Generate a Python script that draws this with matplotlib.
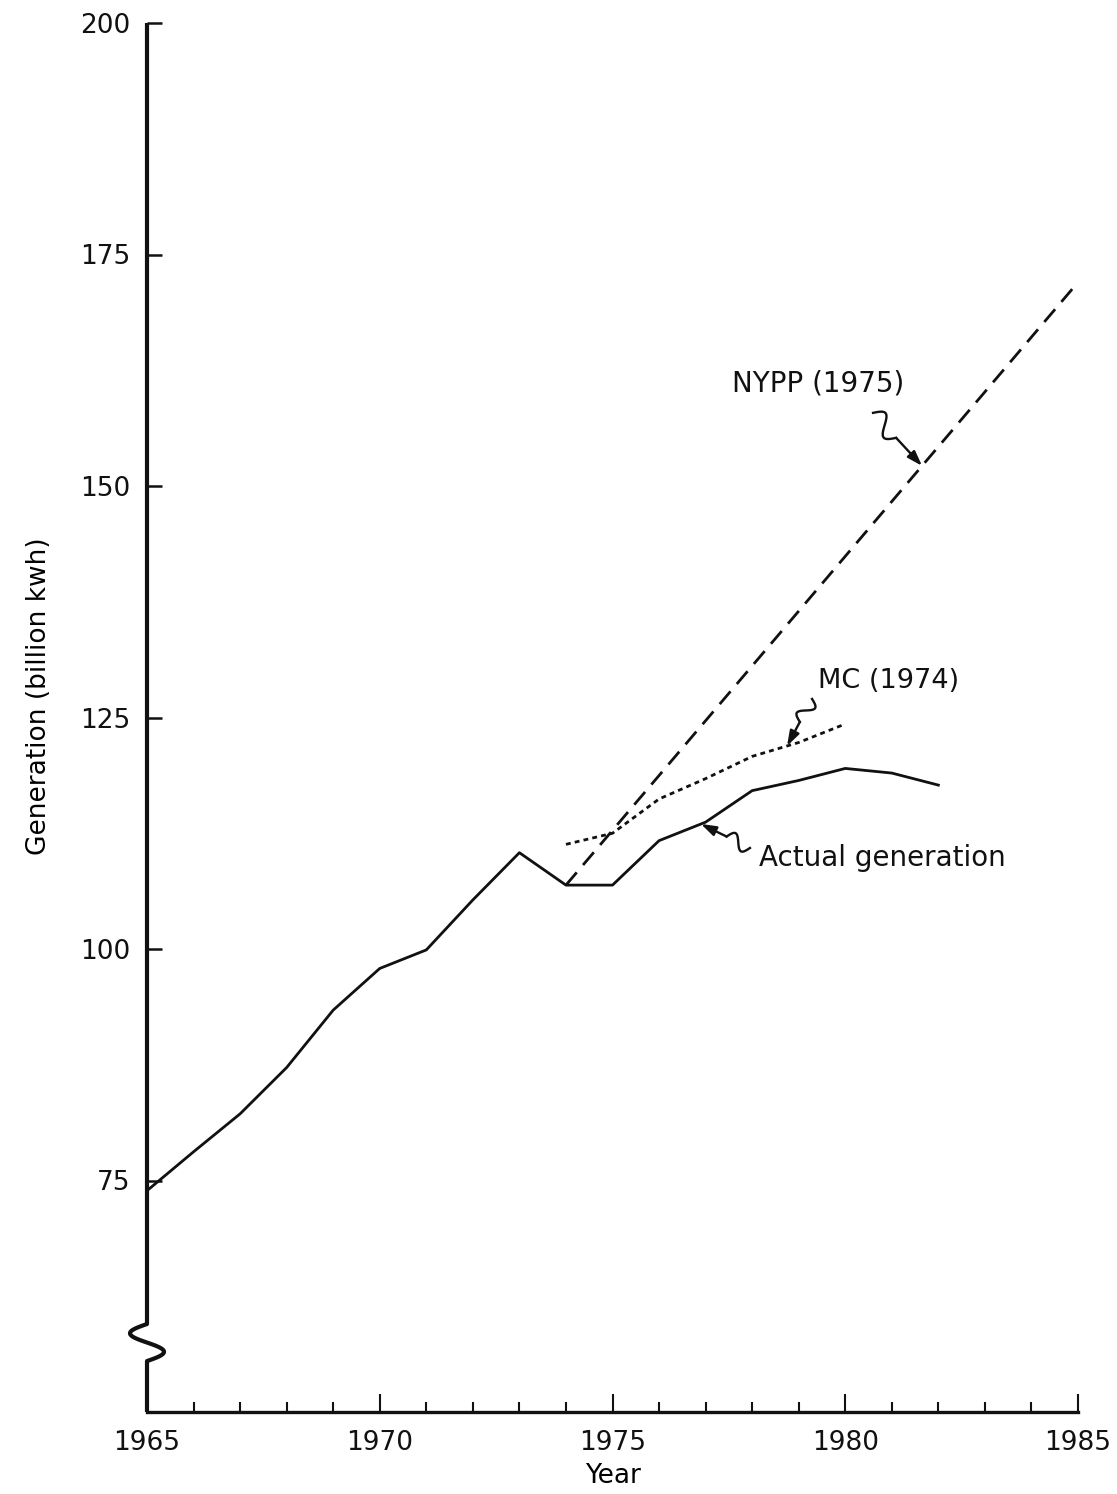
import numpy as np
import matplotlib
matplotlib.use("Agg")
import matplotlib.pyplot as plt
from matplotlib.transforms import IdentityTransform

# Net generation, billion kWh
years_actual = [1965, 1966, 1967, 1968, 1969, 1970, 1971, 1972, 1973,
                1974, 1975, 1976, 1977, 1978, 1979, 1980, 1981, 1982]
actual_gen = [73.9, 78.1, 82.2, 87.2, 93.4, 97.9, 99.9, 105.3, 110.4,
              106.9, 106.9, 111.7, 113.7, 117.1, 118.2, 119.5, 119.0, 117.7]

# MC (1974) forecast
years_mc = [1974, 1975, 1976, 1977, 1978, 1979, 1980]
mc_forecast = [111.3, 112.5, 116.2, 118.4, 120.8, 122.3, 124.3]

# NYPP (1975) forecast
years_nypp = [1974, 1985]
nypp_forecast = [106.9, 172.0]

x_major = [1965, 1970, 1975, 1980, 1985]
x_minor = list(range(1965, 1986))
y_ticks = [75, 100, 125, 150, 175, 200]

plt.rcParams['font.family'] = ['DejaVu Sans']
plt.rcParams['lines.scale_dashes'] = False

ink = '#111111'
W, H = 1117, 1494
fig = plt.figure(figsize=(W / 100, H / 100), dpi=100)
ax = fig.add_axes([147 / W, 1 - 1412 / H, 931 / W, 1389 / H])
ax.set_xlim(1965, 1985)
ax.set_ylim(50, 200)

ax.plot(years_actual, actual_gen, color=ink, lw=2.0, solid_joinstyle='round')
ax.plot(years_nypp, nypp_forecast, color=ink, lw=2.0, dashes=(12, 7))
ax.plot(years_mc, mc_forecast, color=ink, lw=2.0, dashes=(3.5, 3))

# Frame: bottom spine only, left spine drawn by hand with a break
for side in ('top', 'right', 'left'):
    ax.spines[side].set_visible(False)
ax.spines['bottom'].set_linewidth(2.4)
ax.spines['bottom'].set_color(ink)

ax.set_xticks(x_major)
ax.set_xticks(x_minor, minor=True)
ax.set_yticks(y_ticks)
ax.tick_params(axis='x', which='major', direction='in', length=13, width=1.5,
               pad=13, labelsize=19, color=ink)
ax.tick_params(axis='x', which='minor', direction='in', length=7, width=1.5,
               color=ink)
ax.tick_params(axis='y', direction='in', length=11, width=1.8, pad=12,
               labelsize=19, color=ink)

ax.set_xlabel('Year', fontsize=19, labelpad=5)
ax.set_ylabel('Generation (billion kwh)', fontsize=19)
ax.yaxis.set_label_coords(-0.116, 0.5155)
ax.yaxis.label.set_verticalalignment('center')

# Left axis with a break near the bottom
to_disp = ax.transData.transform
x0, y_top = to_disp((1965, 200))
_, y_bot = to_disp((1965, 50))
_, brk_hi = to_disp((1965, 59.5))
_, brk_lo = to_disp((1965, 55.5))
t = np.linspace(0, 1, 60)
sq_x = x0 - 17 * np.sin(2 * np.pi * t)
sq_y = brk_hi + (brk_lo - brk_hi) * t
spine_x = np.concatenate([[x0], sq_x, [x0]])
spine_y = np.concatenate([[y_top], sq_y, [y_bot]])
fig.add_artist(plt.Line2D(spine_x, spine_y, color=ink, lw=3.0,
                          solid_joinstyle='round', solid_capstyle='butt',
                          transform=IdentityTransform()))


def squiggle_arrow(tip, tail_off, amp=7, sq_len=26):
    """Arrow with a small S-shaped wiggle near its tail (offset in image pixels)."""
    tip_d = np.array(to_disp(tip))
    tail_d = tip_d + np.array([tail_off[0], -tail_off[1]])
    vec = tip_d - tail_d
    dist = np.hypot(*vec)
    u = vec / dist
    n = np.array([-u[1], u[0]])
    s = np.linspace(0, sq_len, 40)
    pts = tail_d[None, :] + s[:, None] * u[None, :] \
        + (amp * np.sin(2 * np.pi * s / sq_len))[:, None] * n[None, :]
    fig.add_artist(plt.Line2D(pts[:, 0], pts[:, 1], color=ink, lw=1.7,
                              transform=IdentityTransform()))
    start = pts[-1]
    ax.annotate('', xy=tuple(tip_d), xycoords='figure pixels',
                xytext=tuple(start), textcoords='figure pixels',
                arrowprops=dict(arrowstyle='-|>,head_length=0.9,head_width=0.3',
                                color=ink, lw=1.7, shrinkA=0, shrinkB=0))


nypp_tip_year = 1981.65
squiggle_arrow((nypp_tip_year, np.interp(nypp_tip_year, years_nypp, nypp_forecast)),
               (-49, -53), amp=9, sq_len=34)
mc_tip_year = 1978.75
squiggle_arrow((mc_tip_year, np.interp(mc_tip_year, years_mc, mc_forecast)),
               (25, -47))
act_tip_year = 1976.9
squiggle_arrow((act_tip_year, np.interp(act_tip_year, years_actual, actual_gen)),
               (49, 24))

ax.text(1979.42, 160.25, 'NYPP (1975)', ha='center', va='baseline', fontsize=20,
        color=ink)
ax.text(1980.92, 128.2, 'MC (1974)', ha='center', va='baseline', fontsize=19.5,
        color=ink)
ax.text(1978.15, 108.93, 'Actual generation', ha='left', va='baseline',
        fontsize=20, color=ink)

for lab in ax.get_xticklabels() + ax.get_yticklabels():
    lab.set_color(ink)

fig.savefig('out.png', dpi=100, facecolor='white')
